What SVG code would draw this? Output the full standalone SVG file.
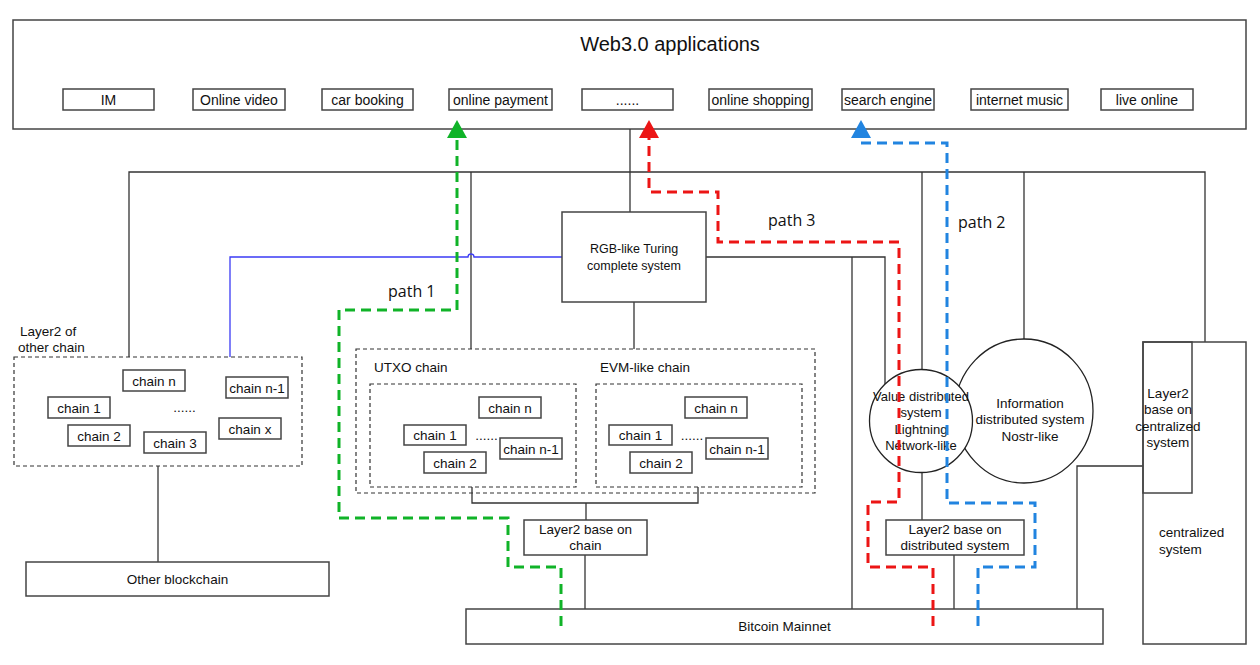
<svg xmlns="http://www.w3.org/2000/svg" width="1260" height="665" viewBox="0 0 1260 665">
<style>
text{font-family:"Liberation Sans",Arial,sans-serif;fill:#111;text-anchor:middle}
.box{fill:#fff;stroke:#444;stroke-width:1.5}
.dbox{fill:none;stroke:#333;stroke-width:1.2;stroke-dasharray:4 3}
.ln{fill:none;stroke:#333;stroke-width:1.3}
.app{font-size:14px}
.t{font-size:13.5px}
.pl{font-family:"Open Sans","Noto Sans",sans-serif;font-size:16px;text-anchor:start}
.g{fill:none;stroke:#10b328;stroke-width:3;stroke-dasharray:10 6}
.r{fill:none;stroke:#ec1515;stroke-width:3;stroke-dasharray:10 6}
.b{fill:none;stroke:#2184e0;stroke-width:3;stroke-dasharray:10 6}
</style>
<rect width="1260" height="665" fill="#fff"/>

<g id="web3">
<rect class="box" x="13" y="20" width="1233" height="109"/>
<text x="670" y="51" font-size="20">Web3.0 applications</text>
<rect class="box" x="63" y="89" width="91" height="21"/><text class="app" x="108.5" y="105">IM</text>
<rect class="box" x="193" y="89" width="92" height="21"/><text class="app" x="239" y="105">Online video</text>
<rect class="box" x="322" y="89" width="91" height="21"/><text class="app" x="367.5" y="105">car booking</text>
<rect class="box" x="449" y="89" width="103" height="21"/><text class="app" x="500.5" y="105">online payment</text>
<rect class="box" x="582" y="89" width="91" height="21"/><text class="app" x="627.5" y="105">......</text>
<rect class="box" x="709" y="89" width="103" height="21"/><text class="app" x="760.5" y="105">online shopping</text>
<rect class="box" x="842" y="89" width="92" height="21"/><text class="app" x="888" y="105">search engine</text>
<rect class="box" x="971" y="89" width="97" height="21"/><text class="app" x="1019.5" y="105">internet music</text>
<rect class="box" x="1101" y="89" width="92" height="21"/><text class="app" x="1147" y="105">live online</text>
</g>

<g id="connectors">
<path class="ln" d="M630,129 V212"/>
<path class="ln" d="M129,357 V172 H1205 V342"/>
<path class="ln" d="M471,172 V349"/>
<path class="ln" d="M922,172 V370"/>
<path class="ln" d="M1024,172 V339"/>
<path class="ln" d="M634,302 V349"/>
<path d="M562,257 H474 A3,3 0 0 0 468,257 H230 V357" fill="none" stroke="#3b3bf5" stroke-width="1.3"/>
<path class="ln" d="M706,257 H885 V384"/>
<path class="ln" d="M852,257 V609"/>
<path class="ln" d="M472,487 V503 H698 V487"/>
<path class="ln" d="M586,503 V520"/>
<path class="ln" d="M585,555 V609"/>
<path class="ln" d="M922,473 V520"/>
<path class="ln" d="M954,555 V609"/>
<path class="ln" d="M1143,466 H1077 V609"/>
<path class="ln" d="M158,466 V562"/>
</g>

<g id="rgb">
<rect class="box" x="562" y="212" width="144" height="90"/>
<text x="634" y="253" font-size="12.5">RGB-like Turing</text>
<text x="634" y="270" font-size="12.5">complete system</text>
</g>

<g id="layer2-other-chain">
<text class="t" x="20" y="336" style="text-anchor:start">Layer2 of</text>
<text class="t" x="18" y="352" style="text-anchor:start">other chain</text>
<rect class="dbox" x="14" y="357" width="288" height="109"/>
<rect class="box" x="123" y="370" width="62" height="21"/><text class="t" x="154" y="385.5">chain n</text>
<rect class="box" x="226" y="377" width="62" height="21"/><text class="t" x="257" y="392.5">chain n-1</text>
<rect class="box" x="48" y="397" width="62" height="21"/><text class="t" x="79" y="412.5">chain 1</text>
<text class="t" x="184.5" y="412">......</text>
<rect class="box" x="219" y="418" width="62" height="21"/><text class="t" x="250" y="433.5">chain x</text>
<rect class="box" x="68" y="425" width="62" height="21"/><text class="t" x="99" y="440.5">chain 2</text>
<rect class="box" x="144" y="432" width="62" height="21"/><text class="t" x="175" y="447.5">chain 3</text>
</g>

<g id="other-blockchain">
<rect class="box" x="26" y="562" width="303" height="34"/>
<text class="t" x="177.5" y="584">Other blockchain</text>
</g>

<g id="chains">
<rect class="dbox" x="356" y="349" width="459" height="144"/>
<text class="t" x="374" y="372" style="text-anchor:start">UTXO chain</text>
<text class="t" x="600" y="372" style="text-anchor:start">EVM-like chain</text>
</g>

<g id="utxo-chain">
<rect class="dbox" x="370" y="384" width="206" height="103"/>
<rect class="box" x="479" y="397" width="62" height="21"/><text class="t" x="510" y="412.5">chain n</text>
<rect class="box" x="404" y="425" width="62" height="20"/><text class="t" x="435" y="440">chain 1</text>
<text class="t" x="486.5" y="440">......</text>
<rect class="box" x="500" y="438" width="62" height="21"/><text class="t" x="531" y="453.5">chain n-1</text>
<rect class="box" x="424" y="452" width="62" height="21"/><text class="t" x="455" y="467.5">chain 2</text>
</g>

<g id="evm-chain">
<rect class="dbox" x="596" y="384" width="206" height="103"/>
<rect class="box" x="685" y="397" width="62" height="21"/><text class="t" x="716" y="412.5">chain n</text>
<rect class="box" x="609" y="425" width="63" height="20"/><text class="t" x="640.5" y="440">chain 1</text>
<text class="t" x="692" y="440">......</text>
<rect class="box" x="706" y="438" width="62" height="21"/><text class="t" x="737" y="453.5">chain n-1</text>
<rect class="box" x="630" y="452" width="62" height="21"/><text class="t" x="661" y="467.5">chain 2</text>
</g>

<g id="layer2-chain">
<rect class="box" x="524" y="520" width="123" height="35"/>
<text class="t" x="585.5" y="534">Layer2 base on</text>
<text class="t" x="585.5" y="550">chain</text>
</g>

<g id="info-system">
<ellipse cx="1024" cy="411" rx="69" ry="72" fill="#fff" stroke="#222" stroke-width="1.3"/>
<text class="t" x="1030" y="408">Information</text>
<text class="t" x="1030" y="424">distributed system</text>
<text class="t" x="1030" y="441">Nostr-like</text>
</g>

<g id="value-system">
<circle cx="921" cy="421" r="51.5" fill="#fff" stroke="#222" stroke-width="1.3"/>
<text x="921" y="401" font-size="13">Value distributed</text>
<text x="921" y="417" font-size="13">system</text>
<text x="921" y="434" font-size="13">Lightning</text>
<text x="921" y="450" font-size="13">Network-like</text>
</g>

<g id="layer2-distributed">
<rect class="box" x="886" y="520" width="138" height="35"/>
<text class="t" x="955" y="534">Layer2 base on</text>
<text class="t" x="955" y="550">distributed system</text>
</g>

<g id="centralized-system">
<rect class="box" x="1143" y="342" width="103" height="302"/>
<text class="t" x="1159" y="537" style="text-anchor:start">centralized</text>
<text class="t" x="1159" y="554" style="text-anchor:start">system</text>
</g>

<g id="layer2-centralized">
<rect class="box" x="1143" y="342" width="49" height="151" fill="none" style="fill:none"/>
<text class="t" x="1168" y="398">Layer2</text>
<text class="t" x="1168" y="414">base on</text>
<text class="t" x="1168" y="431">centralized</text>
<text class="t" x="1168" y="447">system</text>
</g>

<g id="bitcoin-mainnet">
<rect class="box" x="466" y="609" width="637" height="35"/>
<text class="t" x="784.5" y="631">Bitcoin Mainnet</text>
</g>

<g id="paths">
<path class="g" d="M561,626 V567 H508 V518 H339 V310 H457 V138"/>
<polygon points="457,120 467,138 447,138" fill="#10b328"/>
<path class="r" d="M933,626 V567 H868 V502 H899 V242 H718 V192 H649 V138"/>
<polygon points="649,120 659,138 639,138" fill="#ec1515"/>
<path class="b" d="M978,626 V567 H1035 V503 H947 V143 H861 V138"/>
<polygon points="861,120 871,138 851,138" fill="#2184e0"/>
<text class="pl" x="388" y="297">path 1</text>
<text class="pl" x="768" y="226">path 3</text>
<text class="pl" x="958" y="228">path 2</text>
</g>
</svg>
